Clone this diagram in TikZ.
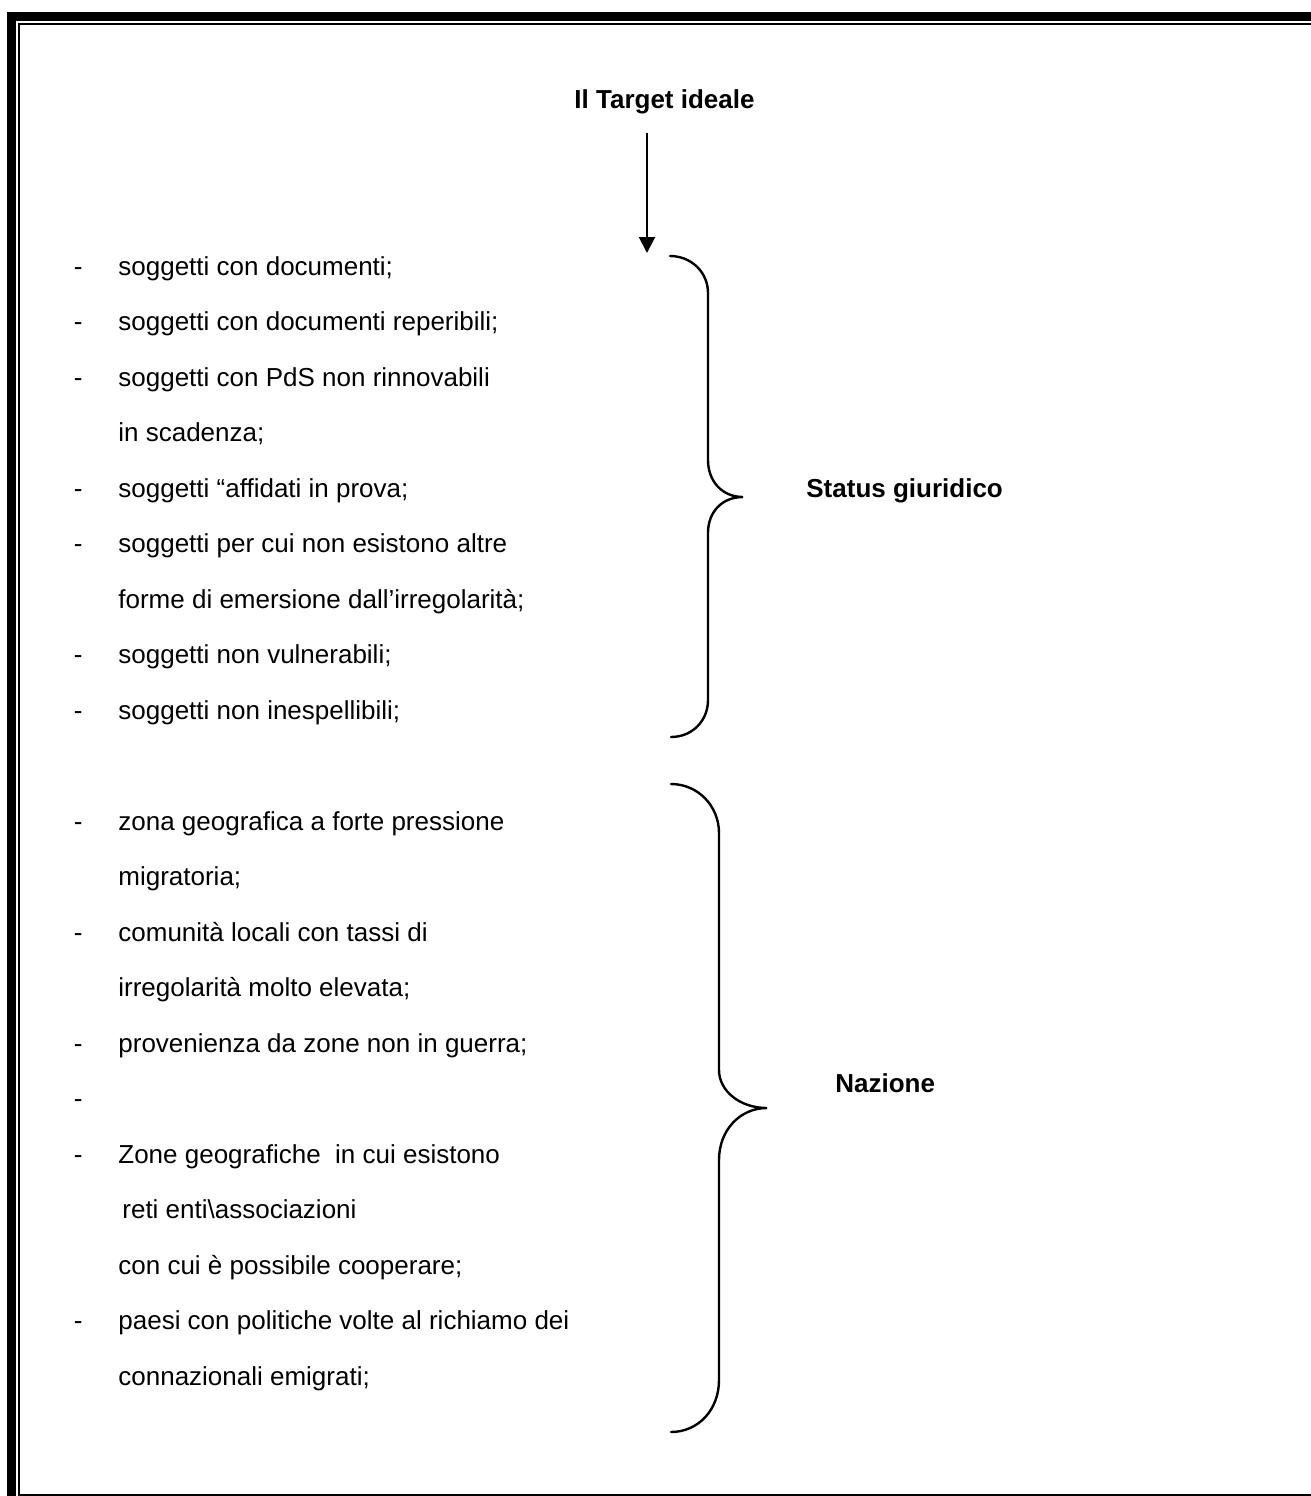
\documentclass[tikz,border=0pt]{standalone}
\usepackage{fontspec}
\setmainfont{Liberation Sans}
\usetikzlibrary{arrows.meta}
\begin{document}
\begin{tikzpicture}[x=0.5pt,y=-0.5pt,
  txt/.style={anchor=base west,inner sep=0pt,font=\fontsize{13pt}{15pt}\selectfont},
  head/.style={txt,font=\fontsize{13pt}{15pt}\selectfont\bfseries},
  bracestyle/.style={line width=1.2pt,line cap=round},
  arrowstyle/.style={line width=1pt,-{Triangle[width=8pt,length=8pt]}}]
\useasboundingbox (0,0) rectangle (1311,1496);
\clip (0,0) rectangle (1311,1496);
% border
\draw[line width=4.5pt] (11.5,16.5) rectangle (1340,1520);
\draw[line width=1pt] (19,24) rectangle (1330,1494.5);
% title and arrow
\node[head] (title) at (574,108) {Il Target ideale};
\coordinate (atop) at (647,133);
\coordinate (abot) at (647,253);
\draw[arrowstyle] (atop) -- (abot);
% first group
\foreach \n/\t in {0/{soggetti con documenti;},1/{soggetti con documenti reperibili;},2/{soggetti con PdS non rinnovabili},4/{soggetti “affidati in prova;},5/{soggetti per cui non esistono altre},7/{soggetti non vulnerabili;},8/{soggetti non inespellibili;},10/{zona geografica a forte pressione},12/{comunità locali con tassi di},14/{provenienza da zone non in guerra;},16/{Zone geografiche\ \ in cui esistono},19/{paesi con politiche volte al richiamo dei}}{
  \node[txt] (d\n) at (73.5,275+55.5*\n) {-};
  \node[txt] (t\n) at (118,275+55.5*\n) {\t};
}
\node[txt] (d15) at (73.5,275+55.5*15) {-};
\foreach \n/\t in {3/{in scadenza;},6/{forme di emersione dall’irregolarità;},11/{migratoria;},13/{irregolarità molto elevata;},18/{con cui è possibile cooperare;},20/{connazionali emigrati;}}{
  \node[txt] (t\n) at (118,275+55.5*\n) {\t};
}
\node[txt] (t17) at (122,275+55.5*17) {reti enti\textbackslash associazioni};
% labels
\node[head] (status) at (806,497) {Status giuridico};
\node[head] (naz) at (835,1092) {Nazione};
% brace 1
\draw[bracestyle] (670,256) .. controls (691,256) and (708,272) .. (708,293)
  -- (708,460) .. controls (708,481) and (722,497) .. (743,497)
  .. controls (722,497) and (708,512) .. (708,533)
  -- (708,700) .. controls (708,721) and (692,737) .. (671,737);
% brace 2
\draw[bracestyle] (671,784) .. controls (698,784) and (719,806) .. (719,833)
  -- (719,1070) .. controls (719,1091) and (740,1108) .. (767,1108)
  .. controls (740,1108) and (719,1130) .. (719,1160)
  -- (719,1380) .. controls (719,1410) and (698,1432) .. (671,1432);
\end{tikzpicture}
\end{document}
